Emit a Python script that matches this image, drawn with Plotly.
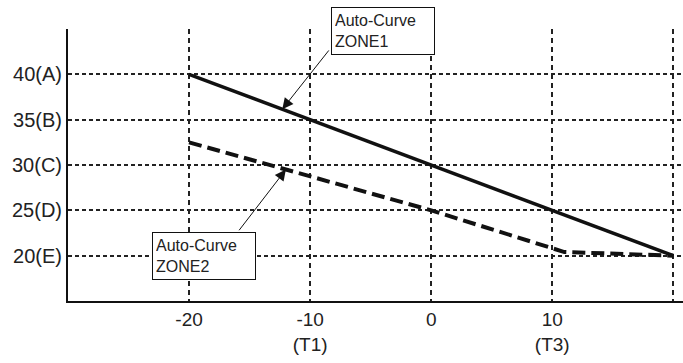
import plotly.graph_objects as go

# Data
zone1_x = [-20, 20]
zone1_y = [40, 20]
zone2_x = [-20, 0, 11, 20]
zone2_y = [32.5, 25, 20.4, 20]

x_ticks = [-20, -10, 0, 10, 20]
x_tick_labels = ["-20", "-10<br>(T1)", "0", "10<br>(T3)", "20"]
y_ticks = [20, 25, 30, 35, 40]
y_tick_labels = ["20(E)", "25(D)", "30(C)", "35(B)", "40(A)"]

box_texts = ["Auto-Curve<br>ZONE1", "Auto-Curve<br>ZONE2"]

FONT = "Liberation Sans, Arial, sans-serif"

fig = go.Figure()
fig.add_trace(go.Scatter(x=zone1_x, y=zone1_y, mode="lines",
                         line=dict(color="#111111", width=3.5), showlegend=False))
fig.add_trace(go.Scatter(x=zone2_x, y=zone2_y, mode="lines",
                         line=dict(color="#111111", width=4, dash="13px,6px"), showlegend=False))

# Arrows
fig.add_annotation(x=-12.3, y=36.15, ax=-8.36, ay=42.8, xref="x", yref="y",
                   axref="x", ayref="y", text="", showarrow=True,
                   arrowhead=2, arrowsize=2.2, arrowwidth=1, arrowcolor="#111111", standoff=0)
fig.add_annotation(x=-12.0, y=29.5, ax=-15.96, ay=22.64, xref="x", yref="y",
                   axref="x", ayref="y", text="", showarrow=True,
                   arrowhead=2, arrowsize=2.2, arrowwidth=1, arrowcolor="#111111", standoff=0)

# Boxes
fig.add_annotation(x=-8.3, y=1.081, xref="x", yref="paper", xanchor="left", yanchor="top",
                   text=box_texts[0], showarrow=False, align="left",
                   width=96, height=40,
                   font=dict(family=FONT, size=16, color="#222222"),
                   bgcolor="white", bordercolor="#111111", borderwidth=1, borderpad=3)
fig.add_annotation(x=-23.1, y=22.64, xref="x", yref="y", xanchor="left", yanchor="top",
                   text=box_texts[1], showarrow=False, align="left",
                   width=96, height=40,
                   font=dict(family=FONT, size=16, color="#222222"),
                   bgcolor="white", bordercolor="#111111", borderwidth=1, borderpad=3)

fig.update_xaxes(range=[-30, 20.8], tickvals=x_ticks, ticktext=x_tick_labels,
                 showgrid=True, gridcolor="#222222", gridwidth=1.5, griddash="5px,4px",
                 showline=True, linecolor="#111111", linewidth=2, zeroline=False,
                 ticks="", automargin=False,
                 tickfont=dict(family=FONT, size=19, color="#222222"))
fig.update_yaxes(range=[15, 45], tickvals=y_ticks, ticktext=y_tick_labels,
                 showgrid=True, gridcolor="#222222", gridwidth=1.5, griddash="4px,3px",
                 showline=True, linecolor="#111111", linewidth=2, zeroline=False,
                 ticks="", automargin=False,
                 tickfont=dict(family=FONT, size=20, color="#222222"))

fig.update_layout(width=683, height=363, margin=dict(l=68, r=0, t=29, b=62),
                  plot_bgcolor="white", paper_bgcolor="white")

fig.write_html("out.html", config={"displayModeBar": False},
               post_script="document.body.style.margin='0';")
